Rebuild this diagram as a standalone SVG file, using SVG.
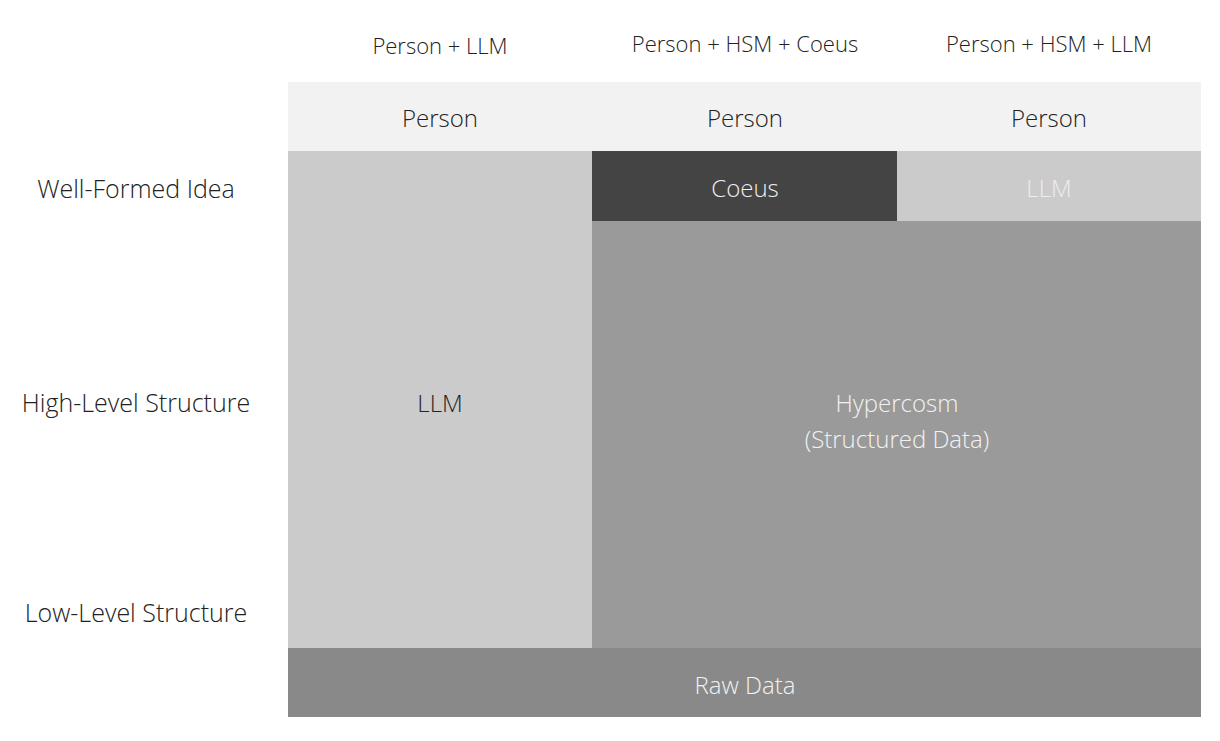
<svg xmlns="http://www.w3.org/2000/svg" width="1220" height="741" viewBox="0 0 1220 741">
<style>
text{font-family:"Open Sans","Liberation Sans",sans-serif;font-weight:300;text-anchor:middle;dominant-baseline:central}
.h{font-size:22px;fill:#222}
.r{font-size:25px;fill:#222}
.b{font-size:24px}
</style>
<rect width="1220" height="741" fill="#fff"/>
<g id="headers">
<text class="h" x="440" y="45">Person + LLM</text>
<text class="h" x="745" y="43">Person + HSM + Coeus</text>
<text class="h" x="1049" y="43">Person + HSM + LLM</text>
</g>
<g id="rowlabels">
<text class="r" x="136" y="188">Well-Formed Idea</text>
<text class="r" x="136" y="402">High-Level Structure</text>
<text class="r" x="136" y="612">Low-Level Structure</text>
</g>
<g id="person"><rect x="288" y="82" width="913" height="69" fill="#f2f2f2"/>
<text class="b" x="440" y="117" fill="#222">Person</text>
<text class="b" x="745" y="117" fill="#222">Person</text>
<text class="b" x="1049" y="117" fill="#222">Person</text></g>
<g id="llm1"><rect x="288" y="151" width="304" height="497" fill="#cbcbcb"/><text class="b" x="440" y="402" fill="#222">LLM</text></g>
<g id="coeus"><rect x="592" y="151" width="305" height="70" fill="#444"/><text class="b" x="745" y="187" fill="#eee">Coeus</text></g>
<g id="llm2"><rect x="897" y="151" width="304" height="70" fill="#cbcbcb"/><text class="b" x="1049" y="187" fill="#eee">LLM</text></g>
<g id="hypercosm"><rect x="592" y="221" width="609" height="427" fill="#9a9a9a"/>
<text class="b" x="897" y="402" fill="#f2f2f2">Hypercosm</text>
<text class="b" x="897" y="438" fill="#f2f2f2">(Structured Data)</text></g>
<g id="raw"><rect x="288" y="648" width="913" height="69" fill="#898989"/><text class="b" x="745" y="684" fill="#f2f2f2">Raw Data</text></g>
<g id="connectors"/>
</svg>
